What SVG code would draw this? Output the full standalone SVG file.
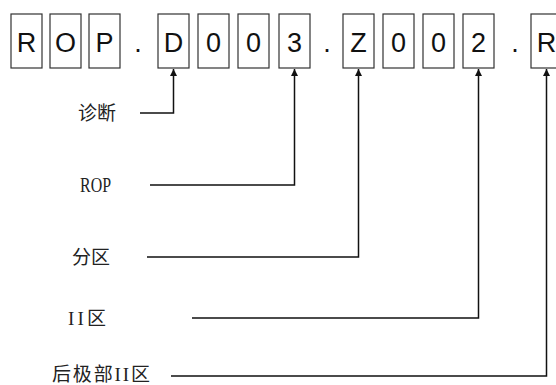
<svg xmlns="http://www.w3.org/2000/svg" width="556" height="385" viewBox="0 0 556 385">
<style>
.box rect{fill:#fff;stroke:#333;stroke-width:1.2}
.box text,.dot{font-family:"Liberation Sans","Noto Sans",sans-serif;font-size:27px;fill:#111;text-anchor:middle}
.lbl{font-family:"Liberation Serif","Noto Sans CJK SC",serif;font-size:19px;fill:#222}
.conn polyline{fill:none;stroke:#111;stroke-width:1.5}
</style>
<defs>
<marker id="arr" viewBox="0 0 8 8" refX="8" refY="4" markerWidth="7" markerHeight="7" markerUnits="userSpaceOnUse" orient="auto">
<path d="M0,0 L8,4 L0,8 z" fill="#111"/>
</marker>
</defs>
<rect width="556" height="385" fill="#fff"/>
<g id="c1" class="box"><rect x="11" y="14" width="31" height="54"/><text x="26.5" y="52">R</text></g>
<g id="c2" class="box"><rect x="50" y="14" width="31" height="54"/><text x="65.5" y="52">O</text></g>
<g id="c3" class="box"><rect x="89" y="14" width="31" height="54"/><text x="104.5" y="52">P</text></g>
<text class="dot" x="138" y="52">.</text>
<g id="c4" class="box"><rect x="158" y="14" width="31" height="54"/><text x="173.5" y="52">D</text></g>
<g id="c5" class="box"><rect x="198" y="14" width="31" height="54"/><text x="213.5" y="52">0</text></g>
<g id="c6" class="box"><rect x="238" y="14" width="31" height="54"/><text x="253.5" y="52">0</text></g>
<g id="c7" class="box"><rect x="279" y="14" width="31" height="54"/><text x="294.5" y="52">3</text></g>
<text class="dot" x="327" y="52">.</text>
<g id="c8" class="box"><rect x="343" y="14" width="31" height="54"/><text x="358.5" y="52">Z</text></g>
<g id="c9" class="box"><rect x="383" y="14" width="31" height="54"/><text x="398.5" y="52">0</text></g>
<g id="c10" class="box"><rect x="423" y="14" width="31" height="54"/><text x="438.5" y="52">0</text></g>
<g id="c11" class="box"><rect x="463" y="14" width="31" height="54"/><text x="478.5" y="52">2</text></g>
<text class="dot" x="515" y="52">.</text>
<g id="c12" class="box"><rect x="531" y="14" width="31" height="54"/><text x="546.5" y="52">R</text></g>
<g id="l1"><text class="lbl" x="78" y="120" textLength="38" lengthAdjust="spacing">诊断</text></g>
<g id="l2"><text class="lbl" x="80" y="192" style="font-size:21px" textLength="31" lengthAdjust="spacingAndGlyphs">ROP</text></g>
<g id="l3"><text class="lbl" x="72" y="264" textLength="38" lengthAdjust="spacing">分区</text></g>
<g id="l4"><text class="lbl" x="68" y="325" textLength="38" lengthAdjust="spacing">II区</text></g>
<g id="l5"><text class="lbl" x="52" y="381" textLength="98" lengthAdjust="spacing">后极部II区</text></g>
<g id="connectors" class="conn">
<polyline points="140,113 173.5,113 173.5,69" marker-end="url(#arr)"/>
<polyline points="150,185 294.5,185 294.5,69" marker-end="url(#arr)"/>
<polyline points="147,257 358.5,257 358.5,69" marker-end="url(#arr)"/>
<polyline points="192,318 478.5,318 478.5,69" marker-end="url(#arr)"/>
<polyline points="171,376 546.5,376 546.5,69" marker-end="url(#arr)"/>
</g>
</svg>
